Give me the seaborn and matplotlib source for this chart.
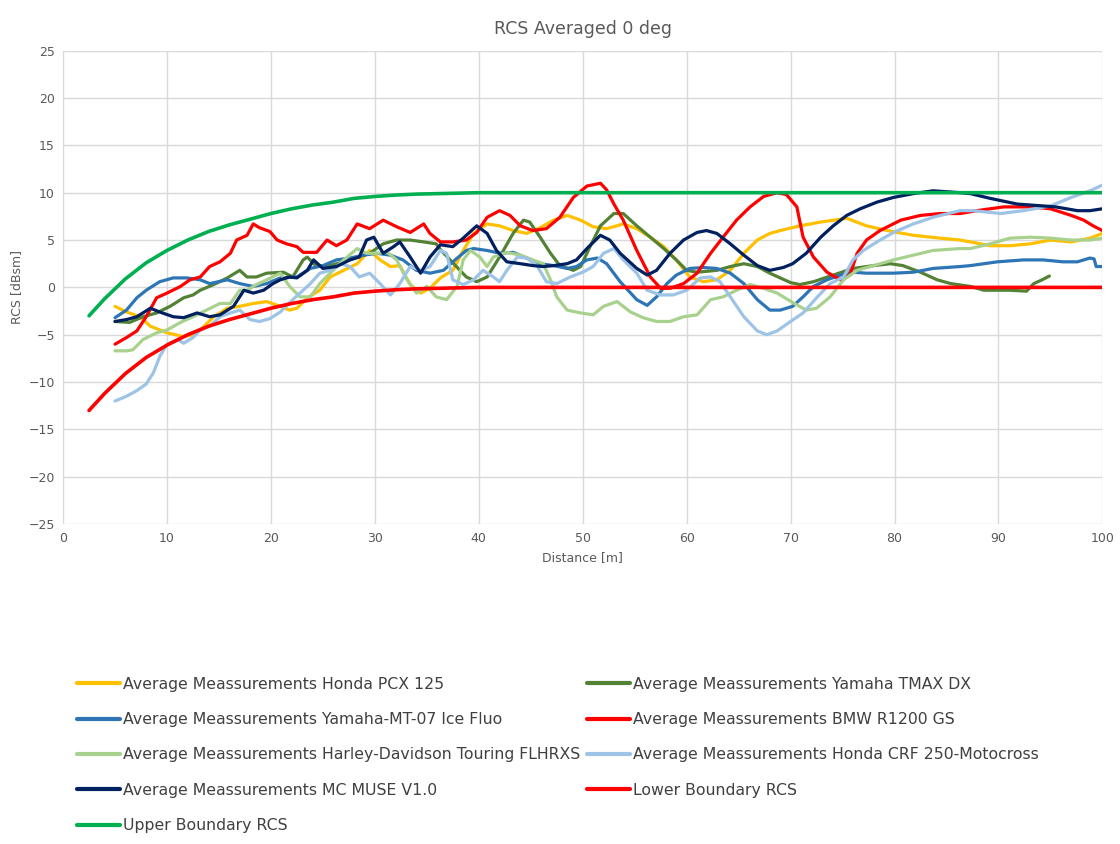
import numpy as np
import pandas as pd
import seaborn as sns
import matplotlib.pyplot as plt

# Werte (Distanz [m], RCS [dBsm])
pcx_x = [5, 6, 7.4, 8.4, 10, 11.6, 12.5, 13.2, 14.5, 15.8, 17, 18.3, 19.6, 20.9, 21.8, 22.5, 23.5, 24.7, 25.7, 27,
         28.3, 29.5, 30.5, 31.5, 32.4, 33.4, 34.4, 35.3, 36.3, 37.5, 38.5, 39.5, 40.8, 42, 43.3, 44.6, 45.9, 47.2,
         48.5, 49.8, 51, 52.3, 53.9, 55.2, 56.5, 57.8, 59, 60.3, 61.6, 62.9, 64.2, 65.5, 66.8, 68, 69, 70.9, 72.9,
         75.4, 77.3, 79.3, 81.8, 84.4, 86.3, 87.3, 89.2, 91.1, 93.1, 95, 97, 98.8, 100]
pcx_y = [-2.0, -2.55, -3.1, -4.1, -4.8, -5.2, -5.0, -4.5, -3.1, -2.2, -2.0, -1.7, -1.5, -2.0, -2.4, -2.2, -1.1, -0.3,
         1.1, 1.8, 2.5, 3.9, 2.9, 2.2, 2.3, 0.3, -0.6, -0.1, 1.0, 1.8, 3.9, 5.7, 6.7, 6.5, 6.0, 5.7, 6.3, 7.1, 7.6,
         7.1, 6.4, 6.2, 6.7, 6.2, 5.3, 4.3, 2.9, 1.1, 0.6, 0.8, 1.8, 3.6, 5.0, 5.7, 6.0, 6.5, 6.9, 7.3, 6.5, 6.0, 5.5,
         5.2, 5.0, 4.8, 4.4, 4.4, 4.6, 5.0, 4.8, 5.2, 5.7]

tmax_x = [5, 6.4, 7.7, 9, 10.3, 11.6, 12.5, 13.2, 14.5, 15.8, 17, 17.7, 18.6, 19.6, 21.2, 22.1, 23.1, 23.5, 24.4,
          25.7, 27, 28.3, 29.5, 30.8, 32.1, 33.4, 34.7, 35.9, 36.3, 37.5, 38.8, 39.8, 40.8, 42, 43.3, 44.3, 44.9,
          45.9, 46.9, 47.8, 49.1, 49.8, 50.7, 51.7, 53, 53.9, 55.2, 56.5, 57.8, 59, 60, 61, 62.9, 64.2, 65.5, 66.8,
          68, 70, 70.9, 72.2, 74.1, 76, 78, 79.6, 80.8, 82.5, 84.1, 85.4, 87.3, 88.6, 91.1, 92.7, 93.4, 94.2, 94.9]
tmax_y = [-3.6, -3.7, -3.1, -2.7, -2.0, -1.1, -0.8, -0.3, 0.3, 1.0, 1.8, 1.1, 1.1, 1.5, 1.6, 1.1, 2.9, 3.2, 2.2,
          2.3, 2.7, 3.2, 3.6, 4.6, 5.0, 5.0, 4.8, 4.6, 4.0, 2.6, 1.1, 0.6, 1.1, 3.2, 5.7, 7.1, 6.9, 5.3, 3.6, 2.3,
          1.8, 2.2, 4.3, 6.5, 7.8, 7.8, 6.5, 5.3, 4.1, 2.9, 1.8, 1.6, 1.8, 2.2, 2.5, 2.2, 1.5, 0.5, 0.3, 0.6, 1.3,
          2.0, 2.3, 2.5, 2.3, 1.6, 0.8, 0.4, 0.1, -0.3, -0.3, -0.4, 0.4, 0.8, 1.2]

mt07_x = [5, 6.1, 7.1, 8, 9.3, 10.6, 11.9, 13.2, 14.1, 15.8, 17, 18.3, 19.6, 20.9, 22.5, 23.8, 25, 26.3, 27.6, 28.9,
          30.2, 31.5, 32.7, 34, 35.3, 36.6, 37.5, 38.8, 39.5, 40.8, 42, 43.3, 44.6, 45.9, 47.2, 48.5, 49.4, 50.4,
          51.4, 52.3, 53.6, 55.2, 56.2, 57.1, 58.1, 59, 60.3, 61.6, 62.9, 64.2, 65.5, 66.8, 68, 69, 70.2, 71.2, 72.2,
          73.5, 74.8, 76, 77.3, 78.6, 79.9, 81.8, 83.7, 86.3, 87.3, 89.9, 92.4, 94.3, 96.2, 97.6, 98.8, 99.2, 99.4, 100]
mt07_y = [-3.2, -2.4, -1.1, -0.3, 0.6, 1.0, 1.0, 0.8, 0.4, 0.8, 0.4, 0.1, 0.4, 1.0, 1.1, 2.0, 2.3, 2.9, 3.1, 3.4,
          3.6, 3.4, 2.9, 1.8, 1.5, 1.8, 2.7, 3.9, 4.1, 3.9, 3.6, 3.7, 3.1, 2.5, 2.3, 2.0, 2.2, 2.9, 3.1, 2.5, 0.6,
          -1.3, -1.9, -1.0, 0.4, 1.3, 2.0, 2.1, 2.0, 1.5, 0.4, -1.3, -2.4, -2.4, -2.0, -1.0, 0.1, 0.8, 1.3, 1.6, 1.5,
          1.5, 1.5, 1.6, 2.0, 2.2, 2.3, 2.7, 2.9, 2.9, 2.7, 2.7, 3.1, 3.0, 2.2, 2.2]

bmw_x = [5, 6.1, 7.1, 8, 9, 10, 11.3, 12.2, 13.2, 14.1, 15.1, 16.1, 16.7, 17.7, 18.3, 18.9, 19.9, 20.6, 21.5, 22.5,
         23.1, 24.4, 25.4, 26.3, 27.3, 28.3, 29.5, 30.8, 32.1, 33.4, 34.7, 35.3, 36.3, 37.5, 38.8, 39.8, 40.8, 42,
         43, 44, 45.2, 46.5, 47.8, 49.1, 50.4, 51.7, 52.3, 53, 53.9, 55.2, 56.5, 57.5, 58.4, 59.7, 61, 62.3, 63.5,
         64.8, 66.1, 67.4, 68.7, 69.6, 70.6, 71.2, 72.2, 73.5, 74.8, 75.7, 76.4, 77.3, 78.6, 80.6, 82.5, 84.4, 86.3,
         87.9, 90.5, 93.1, 95, 97, 98.2, 99.1, 100]
bmw_y = [-6.0, -5.3, -4.6, -3.1, -1.1, -0.6, 0.1, 0.8, 1.1, 2.2, 2.7, 3.6, 5.0, 5.5, 6.7, 6.3, 5.9, 5.0, 4.6, 4.3,
         3.7, 3.7, 5.0, 4.4, 5.0, 6.7, 6.2, 7.1, 6.4, 5.8, 6.7, 5.7, 4.8, 4.8, 5.0, 5.8, 7.4, 8.1, 7.6, 6.5, 6.0,
         6.2, 7.4, 9.5, 10.7, 11.0, 10.3, 8.8, 7.1, 3.9, 1.1, -0.1, -0.1, 0.4, 1.5, 3.6, 5.3, 7.1, 8.5, 9.6, 10.0,
         9.8, 8.5, 5.3, 3.2, 1.6, 0.8, 1.3, 3.6, 5.0, 6.0, 7.1, 7.6, 7.8, 7.8, 8.1, 8.5, 8.5, 8.3, 7.6, 7.1, 6.5, 6.0]

harley_x = [5, 6.1, 6.7, 7.7, 9, 10, 11.3, 12.5, 13.8, 15.1, 16.1, 17, 17.7, 18.6, 19.6, 20.9, 21.8, 22.8, 23.8,
            24.7, 25.7, 27, 28.3, 29.2, 30.2, 31.2, 32.1, 33.1, 34, 35, 35.9, 36.9, 37.9, 38.5, 39.2, 40.1, 40.8,
            41.4, 42.7, 44, 45.2, 46.2, 46.9, 47.5, 48.5, 49.8, 51, 52, 53.3, 54.6, 55.8, 57.1, 58.4, 59.7, 61, 62.3,
            63.5, 64.8, 66.1, 67.4, 68.7, 70.2, 71.5, 72.5, 73.8, 75.1, 76.4, 78, 79.9, 81.8, 83.7, 86.3, 87.3, 89.2,
            91.1, 93.1, 95, 97, 98.8, 100]
harley_y = [-6.7, -6.7, -6.6, -5.5, -4.8, -4.5, -3.7, -3.1, -2.4, -1.7, -1.7, -0.3, -0.3, 0.3, 0.8, 1.5, 0.1, -1.0,
            -1.0, 0.4, 1.5, 2.9, 4.1, 3.6, 3.6, 3.7, 2.9, 0.8, -0.6, 0.1, -1.0, -1.3, 0.1, 2.9, 3.9, 3.2, 2.2, 3.2,
            3.7, 3.4, 2.9, 2.5, 0.8, -1.0, -2.4, -2.7, -2.9, -2.0, -1.5, -2.6, -3.2, -3.6, -3.6, -3.1, -2.9, -1.3,
            -1.0, -0.3, 0.3, -0.1, -0.6, -1.6, -2.4, -2.2, -1.0, 0.8, 1.8, 2.3, 2.9, 3.4, 3.9, 4.1, 4.1, 4.6, 5.2,
            5.3, 5.2, 5.0, 5.0, 5.2]

crf_x = [5, 6.1, 7.1, 8, 8.7, 9.3, 10, 11, 11.6, 12.5, 13.2, 14.1, 15.1, 16.1, 17, 18, 18.9, 19.9, 20.9, 21.8, 22.8,
         23.8, 24.7, 25.7, 26.7, 27.6, 28.5, 29.5, 30.5, 31.5, 32.4, 33.4, 34.4, 35.3, 36.3, 36.9, 37.5, 38.5, 39.5,
         40.4, 41.4, 42, 42.7, 43.7, 44.6, 45.6, 46.5, 47.5, 48.8, 50, 51, 52, 53, 53.9, 55.2, 56.2, 57.5, 58.7, 60,
         61.3, 62.3, 63.2, 64.2, 65.5, 66.8, 67.7, 68.7, 70, 71.2, 72.5, 73.8, 75.1, 76, 77, 78.3, 79.9, 81.8, 83.7,
         86.3, 87.6, 90.2, 92.4, 95, 97, 98.8, 100]
crf_y = [-12.0, -11.5, -10.9, -10.2, -9.0, -7.3, -6.0, -5.5, -5.9, -5.3, -4.5, -4.1, -3.1, -2.7, -2.4, -3.4, -3.6,
         -3.3, -2.6, -1.6, -0.6, 0.4, 1.5, 1.8, 2.5, 2.2, 1.1, 1.5, 0.4, -0.8, 0.4, 2.2, 1.8, 2.2, 3.9, 3.6, 0.8,
         0.3, 0.8, 1.8, 1.1, 0.6, 1.8, 3.2, 3.1, 2.3, 0.6, 0.4, 1.1, 1.6, 2.2, 3.6, 4.1, 2.9, 1.5, -0.3, -0.8,
         -0.8, -0.3, 1.0, 1.1, 0.6, -1.0, -3.1, -4.6, -5.0, -4.6, -3.6, -2.7, -1.1, 0.4, 1.1, 2.9, 3.9, 4.8, 5.8,
         6.7, 7.4, 8.1, 8.1, 7.8, 8.1, 8.6, 9.5, 10.2, 10.8]

muse_x = [5, 6.1, 7.1, 8.4, 9.3, 10.6, 11.6, 12.9, 14.1, 15.1, 16.4, 17.4, 18.3, 19.3, 20.2, 20.9, 21.8, 22.5, 23.5,
          24.1, 25, 26.3, 27.6, 28.5, 29.2, 29.9, 30.8, 31.8, 32.4, 33.4, 34.4, 35.3, 36.3, 37.5, 38.5, 39.8, 40.8,
          41.7, 42.7, 44, 45.2, 46.2, 47.2, 48.5, 49.4, 50.4, 51.7, 52.6, 53.6, 55.2, 56.2, 57.1, 58.4, 59.7, 61,
          61.9, 62.9, 64.2, 65.5, 66.8, 68, 69.3, 70.2, 71.5, 72.9, 74.1, 75.4, 76.7, 78.3, 79.9, 81.8, 83.7, 86.3,
          87.3, 89.2, 91.8, 94.3, 95.5, 97.6, 98.8, 100]
muse_y = [-3.6, -3.4, -3.1, -2.2, -2.6, -3.1, -3.2, -2.7, -3.1, -2.9, -2.0, -0.3, -0.6, -0.3, 0.4, 0.8, 1.1, 1.0,
          1.8, 2.9, 2.0, 2.2, 2.9, 3.2, 5.0, 5.3, 3.6, 4.3, 4.8, 3.2, 1.5, 3.2, 4.5, 4.3, 5.2, 6.5, 5.7, 3.9, 2.7,
          2.5, 2.3, 2.2, 2.3, 2.5, 2.9, 4.1, 5.5, 5.0, 3.6, 2.0, 1.3, 1.8, 3.6, 5.0, 5.8, 6.0, 5.7, 4.6, 3.4, 2.3,
          1.8, 2.1, 2.5, 3.6, 5.3, 6.5, 7.6, 8.3, 9.0, 9.5, 9.9, 10.2, 10.0, 9.9, 9.4, 8.8, 8.6, 8.5, 8.1, 8.1, 8.3]

bound_x = [2.5, 4, 6, 8, 10, 12, 14, 16, 18, 20, 22, 24, 26, 28, 30, 32, 34, 36, 38, 40, 50, 60, 70, 80, 90, 100]
upper_y = [-3.0, -1.2, 0.9, 2.6, 3.9, 5.0, 5.9, 6.6, 7.2, 7.8, 8.3, 8.7, 9.0, 9.4, 9.6, 9.75, 9.85, 9.9, 9.95, 10,
           10, 10, 10, 10, 10, 10]
lower_y = [-13.0, -11.2, -9.1, -7.4, -6.1, -5.0, -4.1, -3.4, -2.8, -2.2, -1.7, -1.3, -1.0, -0.6, -0.4, -0.25, -0.15,
           -0.1, -0.05, 0, 0, 0, 0, 0, 0, 0]

serien = [
    ("Average Meassurements Honda PCX 125", pcx_x, pcx_y, "#FFC000", 2.3),
    ("Average Meassurements Yamaha TMAX DX", tmax_x, tmax_y, "#548235", 2.3),
    ("Average Meassurements Yamaha-MT-07 Ice Fluo", mt07_x, mt07_y, "#2E75B6", 2.3),
    ("Average Meassurements BMW R1200 GS", bmw_x, bmw_y, "#FF0000", 2.3),
    ("Average Meassurements Harley-Davidson Touring FLHRXS", harley_x, harley_y, "#A9D18E", 2.3),
    ("Average Meassurements Honda CRF 250-Motocross", crf_x, crf_y, "#9DC3E6", 2.3),
    ("Average Meassurements MC MUSE V1.0", muse_x, muse_y, "#002060", 2.3),
    ("Lower Boundary RCS", bound_x, lower_y, "#FF0000", 2.6),
    ("Upper Boundary RCS", bound_x, upper_y, "#00B050", 2.6),
]

sns.set_theme(style="white")
plt.rcParams['font.family'] = ['DejaVu Sans']

fig = plt.figure(figsize=(11.2, 8.44), dpi=100)
ax = fig.add_axes([0.0563, 0.379, 0.928, 0.561])

handles = {}
for name, xs, ys, farbe, lw in serien:
    df = pd.DataFrame({"x": xs, "y": ys})
    sns.lineplot(data=df, x="x", y="y", color=farbe, linewidth=lw, ax=ax, sort=False, estimator=None)
    handles[name] = ax.lines[-1]

ax.set_xlim(0, 100)
ax.set_ylim(-25, 25)
ax.set_xticks(np.arange(0, 101, 10))
ax.set_yticks(np.arange(-25, 26, 5))
ax.grid(True, color="#D9D9D9", linewidth=1)
for s in ax.spines.values():
    s.set_visible(False)
ax.tick_params(axis="both", labelsize=9, colors="#595959", length=0, pad=6)
ax.set_xlabel("Distance [m]", fontsize=9, color="#595959")
ax.set_ylabel("RCS [dBsm]", fontsize=9, color="#595959")
ax.set_title("RCS Averaged 0 deg", fontsize=12.5, color="#595959", pad=12)

# Legende: zwei Spalten, spaltenweise befüllt
namen = [s[0] for s in serien]
reihenfolge = [namen[0], namen[2], namen[4], namen[6], namen[8],
               namen[1], namen[3], namen[5], namen[7]]
leg = fig.legend([handles[n] for n in reihenfolge], reihenfolge, loc="upper left",
                 bbox_to_anchor=(0.056, 0.215), ncol=2, frameon=False, fontsize=11.3,
                 handlelength=2.75, handletextpad=0.2, columnspacing=0.4, labelspacing=1.3)
for t in leg.get_texts():
    t.set_color("#404040")
for l in leg.get_lines():
    l.set_linewidth(3.0)

fig.savefig("out.png", dpi=100)
